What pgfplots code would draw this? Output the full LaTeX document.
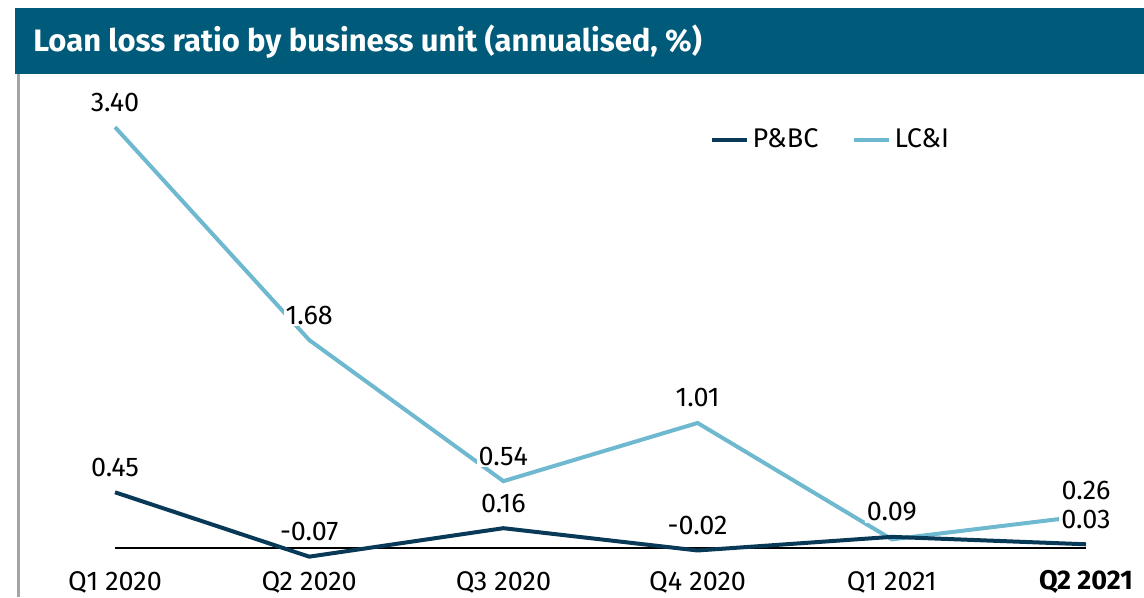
\documentclass[border=0pt]{standalone}
\usepackage{fontspec}
\setmainfont{Fira Sans}
\usepackage{pgfplots}
\pgfplotsset{compat=1.18}
\definecolor{barcol}{RGB}{0,90,122}
\definecolor{pbc}{RGB}{8,58,88}
\definecolor{lci}{RGB}{110,185,208}
\definecolor{grayline}{RGB}{165,165,165}
\newcommand{\lblfont}{\fontsize{13.5}{15}\selectfont}
\begin{document}
\begin{tikzpicture}
\begin{axis}[
  width=572pt, height=298.5pt, scale only axis,
  xmin=-0.5922, xmax=5.2987, ymin=-0.3958, ymax=4.4265,
  axis line style={draw=none}, tick style={draw=none},
  ytick=\empty, xtick={0,...,5},
  xticklabels={Q1 2020,Q2 2020,Q3 2020,Q4 2020,Q1 2021,\textbf{Q2 2021}},
  xticklabel style={anchor=center, yshift=7.5pt, font=\lblfont},
  clip=false,
  legend style={draw=none, fill=none, inner sep=0pt, at={(0.6206,0.7655)}, anchor=west,
    font=\lblfont, /tikz/every even column/.append style={column sep=15pt}},
  legend columns=2,
  legend cell align=left,
  every node near coord/.append style={fill=white, inner sep=1pt, anchor=center, yshift=12.5pt, font=\lblfont, text=black},
]
\addlegendimage{pbc, line width=2pt}
\addlegendentry{P\&BC}
\addlegendimage{lci, line width=2pt}
\addlegendentry{LC\&I}

\fill[barcol] (rel axis cs:0.0131,0.9866) rectangle (rel axis cs:1,0.8760);
\node[anchor=west, text=white, font=\fontsize{15.5}{18}\selectfont\bfseries, inner sep=0pt] at (rel axis cs:0.0288,0.9296) {Loan loss ratio by business unit (annualised, \%)};
\draw[grayline, line width=1.6pt] (rel axis cs:0.0162,0.876) -- (rel axis cs:0.0162,0);

\addplot[black, line width=0.7pt, forget plot] coordinates {(0,0) (5,0)};

\addplot[lci, line width=2pt, no marks, forget plot] coordinates {
  (0,3.40) (1,1.68) (2,0.54) (3,1.01) (4,0.07) (5,0.26)};
\addplot[draw=none, no marks, forget plot, point meta=explicit symbolic, nodes near coords] coordinates {
  (0,3.40) [3.40] (1,1.68) [1.68] (2,0.54) [0.54] (3,1.01) [1.01] (5,0.26) [0.26]};

\addplot[pbc, line width=2pt, no marks, forget plot, point meta=explicit symbolic, nodes near coords] coordinates {
  (0,0.45) [0.45] (1,-0.07) [-0.07] (2,0.16) [0.16] (3,-0.02) [-0.02] (4,0.09) [0.09] (5,0.03) [0.03]};
\end{axis}
\pgfresetboundingbox
\path[use as bounding box] (current axis.south west) rectangle (current axis.north east);
\end{tikzpicture}
\end{document}
